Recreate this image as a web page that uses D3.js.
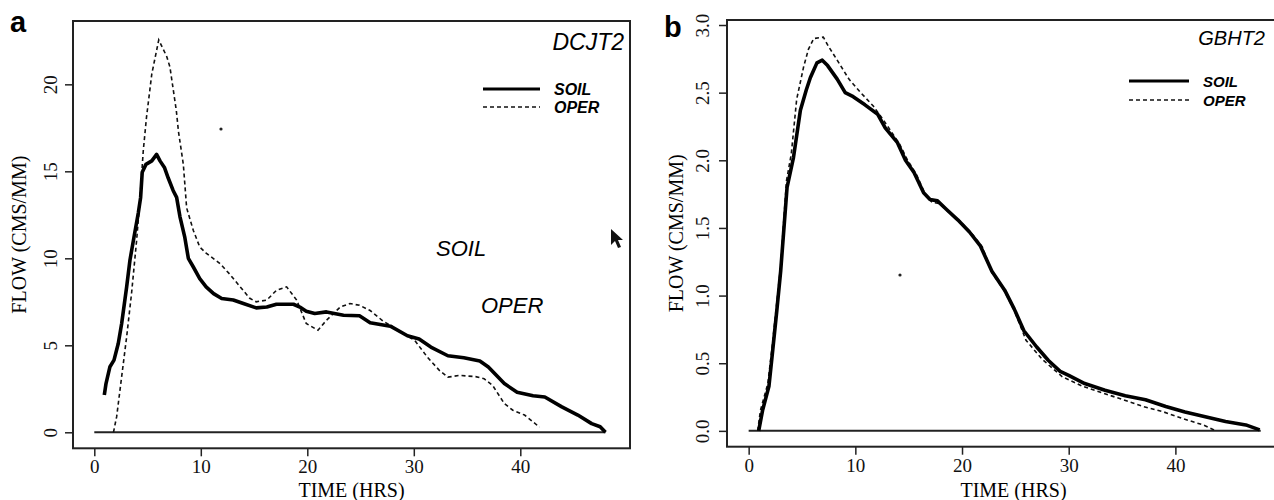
<!DOCTYPE html>
<html>
<head>
<meta charset="utf-8">
<script src="https://cdn.jsdelivr.net/npm/d3@7"></script>
<style>
  body { margin: 0; background: #fff; }
  svg { display: block; }
  .tick text { font-family: "Liberation Serif", serif; font-size: 19px; fill: #111; }
  .tick line { stroke: #222; stroke-width: 1.5; }
</style>
</head>
<body>
<svg id="chart" width="1274" height="500"></svg>
<script>
// panel a (DCJT2) - hours / flow
const aSoilT = [0.94,1.1,1.47,1.85,2.25,2.57,3.04,3.35,3.72,4.13,4.35,4.5,4.85,5.4,5.85,6.17,6.6,6.95,7.4,7.73,8.04,8.5,8.83,9.3,9.9,10.5,11.2,11.96,13.05,14.0,15.2,16.2,17.1,18.7,19.3,19.9,20.7,21.8,23.4,24.9,25.9,27.8,29.4,30.5,31.6,33.2,34.7,36.2,37.0,38.5,39.7,41.2,42.3,43.9,45.4,46.7,47.5,48.0];
const aSoilQ = [2.14,2.8,3.77,4.15,5.1,6.25,8.36,9.9,11.2,12.6,13.5,14.95,15.4,15.6,15.97,15.6,15.2,14.6,13.9,13.5,12.4,11.2,10.0,9.5,8.83,8.36,7.97,7.69,7.6,7.4,7.15,7.2,7.36,7.36,7.2,6.96,6.83,6.92,6.73,6.7,6.3,6.1,5.55,5.36,4.9,4.4,4.28,4.1,3.75,2.8,2.3,2.1,2.03,1.46,0.99,0.5,0.32,0];
const aOperT = [1.8,2.1,2.57,3.04,3.5,3.97,4.3,4.6,4.9,5.4,6.05,6.8,7.1,7.7,7.9,8.36,8.67,9.3,9.9,10.5,11.8,12.7,13.7,14.6,15.2,16.2,17.1,18.06,19.0,19.9,21.0,21.8,23.1,24.0,24.9,25.9,27.1,28.6,30.1,31.3,32.4,33.2,34.3,35.8,36.6,37.4,38.5,39.3,40.4,41.2,41.8];
const aOperQ = [0,0.9,3.2,5.5,8.0,11.0,13.5,16.2,18.1,20.6,22.55,21.6,21.0,18.5,17.3,15.4,12.9,11.6,10.65,10.3,9.7,9.1,8.36,7.7,7.5,7.6,8.16,8.36,7.6,6.25,5.87,6.44,7.2,7.4,7.3,7.0,6.4,5.84,5.27,4.3,3.56,3.17,3.27,3.2,3.08,2.7,1.65,1.27,0.99,0.6,0.29];

// panel b (GBHT2)
const bSoilT = [0.94,1.3,1.9,2.26,2.64,3.0,3.6,4.2,4.85,5.4,5.78,6.4,6.9,7.4,8.3,9.05,9.8,10.9,12.1,12.8,13.95,14.7,15.5,16.4,17.0,17.7,18.5,19.6,20.7,21.7,22.8,24.0,24.9,25.8,27.0,28.1,29.2,30.0,31.5,33.4,35.3,37.2,39.1,40.9,42.8,44.7,46.6,47.9];
const bSoilQ = [0,0.15,0.33,0.6,0.89,1.18,1.8,2.02,2.37,2.52,2.61,2.72,2.74,2.70,2.6,2.5,2.47,2.41,2.34,2.24,2.13,2.0,1.91,1.76,1.71,1.70,1.64,1.56,1.47,1.37,1.18,1.04,0.90,0.74,0.62,0.52,0.44,0.41,0.35,0.30,0.26,0.23,0.18,0.14,0.105,0.07,0.044,0.007];
const bOperT = [0.85,1.1,1.8,2.2,2.6,3.0,3.55,4.0,4.5,5.15,5.6,6.1,7.0,7.5,8.3,9.4,10.5,11.7,12.6,13.3,14.15,14.9,15.7,16.6,17.2,17.9,18.7,19.8,20.9,21.9,22.8,24.0,24.9,26.0,27.5,29.4,31.3,33.2,35.1,37.0,38.9,40.7,42.6,43.8];
const bOperQ = [0,0.15,0.35,0.62,0.92,1.22,1.85,2.05,2.45,2.69,2.82,2.9,2.91,2.84,2.74,2.6,2.5,2.4,2.3,2.22,2.12,2.0,1.9,1.74,1.69,1.68,1.62,1.55,1.46,1.36,1.17,1.03,0.89,0.67,0.53,0.40,0.33,0.28,0.23,0.18,0.14,0.09,0.044,0.0];

const xTicks = [0, 10, 20, 30, 40];
const aYTicks = [0, 5, 10, 15, 20];
const bYTicks = [0, 0.5, 1.0, 1.5, 2.0, 2.5, 3.0];

const svg = d3.select("#chart");

function drawPanel(opt) {
    const g = svg.append("g");

    const x = d3.scaleLinear().domain(opt.xDomain).range([opt.left, opt.right]);
    const y = d3.scaleLinear().domain(opt.yDomain).range([opt.bottom, opt.top]);

    // zero line
    g.append("line")
        .attr("x1", x(0)).attr("x2", x(48))
        .attr("y1", y(0)).attr("y2", y(0))
        .attr("stroke", "#222").attr("stroke-width", 2);

    const line = d3.line().x(d => x(d[0])).y(d => y(d[1]));

    g.append("path")
        .datum(d3.zip(opt.operT, opt.operQ))
        .attr("d", line)
        .attr("fill", "none")
        .attr("stroke", "#111")
        .attr("stroke-width", 1.6)
        .attr("stroke-dasharray", "4,3");

    g.append("path")
        .datum(d3.zip(opt.soilT, opt.soilQ))
        .attr("d", line)
        .attr("fill", "none")
        .attr("stroke", "#000")
        .attr("stroke-width", 3.6)
        .attr("stroke-linejoin", "round");

    // frame
    g.append("rect")
        .attr("x", opt.left).attr("y", opt.top)
        .attr("width", opt.boxRight - opt.left)
        .attr("height", opt.bottom - opt.top)
        .attr("fill", "none").attr("stroke", "#222").attr("stroke-width", 2);

    const xAxis = g.append("g")
        .attr("transform", `translate(0,${opt.bottom})`)
        .call(d3.axisBottom(x).tickValues(xTicks).tickSize(8).tickFormat(d3.format("d")));
    xAxis.select(".domain").remove();
    xAxis.selectAll("text").attr("y", 25).attr("dy", 0);

    const yAxis = g.append("g")
        .attr("transform", `translate(${opt.left},0)`)
        .call(d3.axisLeft(y).tickValues(opt.yTicks).tickSize(8).tickFormat(opt.yFormat));
    yAxis.select(".domain").remove();
    yAxis.selectAll("text")
        .attr("x", 0).attr("y", -opt.labelGap).attr("dy", 0)
        .attr("text-anchor", "middle")
        .attr("transform", "rotate(-90)");

    g.append("text")
        .attr("x", (opt.left + opt.boxRight) / 2)
        .attr("y", 497)
        .attr("text-anchor", "middle")
        .style("font-family", "Liberation Serif, serif")
        .style("font-size", "20px")
        .text("TIME (HRS)");

    g.append("text")
        .attr("transform", `translate(${opt.yTitleX},${(opt.top + opt.bottom) / 2}) rotate(-90)`)
        .attr("text-anchor", "middle")
        .style("font-family", "Liberation Serif, serif")
        .style("font-size", "20px")
        .text("FLOW (CMS/MM)");

    g.append("text")
        .attr("x", opt.panelX).attr("y", opt.panelY)
        .style("font-family", "Liberation Sans, Arial, sans-serif")
        .style("font-weight", "bold")
        .style("font-size", "29px")
        .text(opt.panel);

    g.append("text")
        .attr("x", opt.stationX).attr("y", opt.stationY)
        .attr("text-anchor", "end")
        .style("font-family", "Liberation Sans, Arial, sans-serif")
        .style("font-style", "italic")
        .style("font-size", opt.stationSize + "px")
        .text(opt.station);

    // legend
    const lg = g.append("g").attr("transform", `translate(${opt.legX},${opt.legY})`);
    lg.append("line").attr("x1", 0).attr("x2", opt.legW).attr("y1", 0).attr("y2", 0)
        .attr("stroke", "#000").attr("stroke-width", 3);
    lg.append("line").attr("x1", 0).attr("x2", opt.legW).attr("y1", opt.legStep).attr("y2", opt.legStep)
        .attr("stroke", "#111").attr("stroke-width", 1.5).attr("stroke-dasharray", "4,3");
    lg.selectAll("text.leg")
        .data(["SOIL", "OPER"])
        .join("text")
        .attr("class", "leg")
        .attr("x", opt.legW + 14)
        .attr("y", (d, i) => i * opt.legStep + 6)
        .style("font-family", "Liberation Sans, Arial, sans-serif")
        .style("font-weight", "bold")
        .style("font-style", "italic")
        .style("font-size", opt.legSize + "px")
        .text(d => d);

    return g;
}

const ga = drawPanel({
    panel: "a", panelX: 10, panelY: 32,
    station: "DCJT2", stationX: 624, stationY: 50, stationSize: 23,
    left: 73, right: 630, boxRight: 630, top: 21, bottom: 448.3,
    xDomain: [-2.0, 50.3], yDomain: [-0.92, 23.64],
    yTicks: aYTicks, yFormat: d3.format("d"), labelGap: 16, yTitleX: 26,
    soilT: aSoilT, soilQ: aSoilQ, operT: aOperT, operQ: aOperQ,
    legX: 483, legY: 89, legW: 57, legStep: 18, legSize: 16
});

const gb = drawPanel({
    panel: "b", panelX: 664, panelY: 37,
    station: "GBHT2", stationX: 1265, stationY: 45, stationSize: 20,
    left: 727, right: 1281, boxRight: 1300, top: 20, bottom: 446.7,
    xDomain: [-2.03, 49.9], yDomain: [-0.117, 3.037],
    yTicks: bYTicks, yFormat: d3.format(".1f"), labelGap: 18, yTitleX: 683,
    soilT: bSoilT, soilQ: bSoilQ, operT: bOperT, operQ: bOperQ,
    legX: 1129, legY: 81, legW: 60, legStep: 19, legSize: 15
});

// in-plot labels of panel a
ga.selectAll("text.mid")
    .data([["SOIL", 436, 256], ["OPER", 481, 313]])
    .join("text")
    .attr("class", "mid")
    .attr("x", d => d[1]).attr("y", d => d[2])
    .style("font-family", "Liberation Sans, Arial, sans-serif")
    .style("font-style", "italic")
    .style("font-size", "22px")
    .text(d => d[0]);

// stray marks in the scan
svg.append("circle").attr("cx", 221).attr("cy", 129).attr("r", 1.6).attr("fill", "#222");
svg.append("circle").attr("cx", 900).attr("cy", 275).attr("r", 1.6).attr("fill", "#222");
svg.append("path")
    .attr("d", "M611,229 L611,245 L615,241 L618,248 L621,247 L618,240 L623,240 Z")
    .attr("fill", "#111");
</script>
</body>
</html>
